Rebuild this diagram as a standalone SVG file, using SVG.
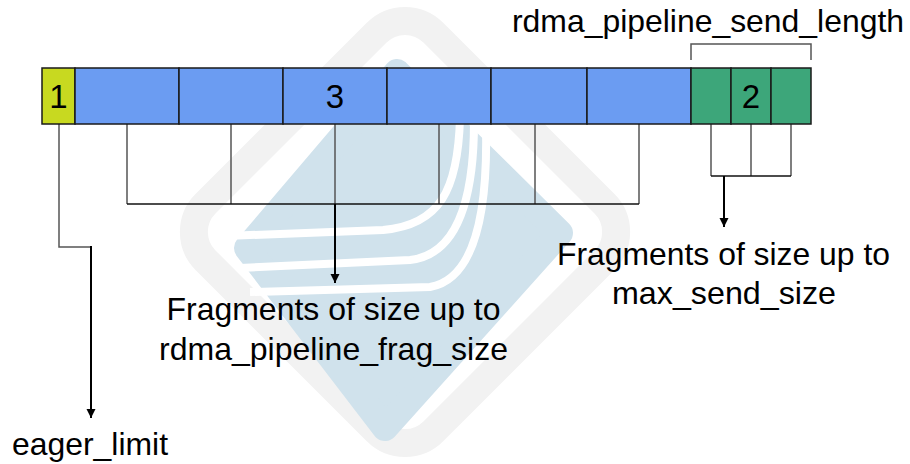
<svg xmlns="http://www.w3.org/2000/svg" width="910" height="464" viewBox="0 0 910 464">
<style>
text{font-family:"Liberation Sans",Arial,sans-serif;fill:#000}
.lbl{font-size:32px;text-anchor:middle}
.num{font-size:33px;text-anchor:middle}
.cell{stroke:#1a1a1a;stroke-width:1.5}
.y{fill:#c8d920}
.b{fill:#6b9cf2}
.g{fill:#3da67a}
.brk{fill:none;stroke:#555;stroke-width:1.5}
.hz{fill:none;stroke:#111;stroke-width:1.5}
.arr{fill:none;stroke:#000;stroke-width:2;marker-end:url(#ah)}
</style>
<defs>
<marker id="ah" markerUnits="userSpaceOnUse" markerWidth="9" markerHeight="10" refX="9" refY="4.5" orient="auto" viewBox="0 0 9 9">
<path d="M0,0 L9,4.5 L0,9 z" fill="#000"/>
</marker>
</defs>
<rect width="910" height="464" fill="#fff"/>
<g id="watermark">
<rect x="244" y="71" width="322" height="322" rx="40" transform="rotate(45 405 232)" fill="none" stroke="#f2f2f2" stroke-width="28"/>
<path d="M397,72 L560,233 L385,428 L247,248 Z" fill="#d0e2ec" stroke="#d0e2ec" stroke-width="26" stroke-linejoin="round"/>
<path d="M460,118 C458,190 440,225 383,230 L225,236" fill="none" stroke="#fff" stroke-width="8"/>
<path d="M474,122 C474,205 455,255 410,260 L240,268" fill="none" stroke="#fff" stroke-width="8"/>
<path d="M486,128 C488,225 470,280 430,287 L250,292" fill="none" stroke="#fff" stroke-width="8"/>
</g>
<g id="connectors">
<path class="brk" d="M691,60 V44 H811 V60"/>
<path class="brk" d="M127,124 V204 M231,124 V204 M335,124 V204 M439,124 V204 M535,124 V204 M639,124 V204"/>
<path class="hz" d="M127,204 H639"/>
<path class="arr" d="M335,204 V283"/>
<path class="brk" d="M711,124 V176 M751,124 V176 M791,124 V176"/>
<path class="hz" d="M711,176 H791"/>
<path class="arr" d="M724,176 V227"/>
<path class="brk" d="M59,124 V247 H91"/>
<path class="arr" d="M91,246 V418"/>
</g>
<g id="bar">
<g id="seg1"><rect class="cell y" x="42" y="68" width="33" height="56"/><text class="num" x="58.5" y="108">1</text></g>
<g id="seg3">
<rect class="cell b" x="75" y="68" width="104" height="56"/>
<rect class="cell b" x="179" y="68" width="104" height="56"/>
<rect class="cell b" x="283" y="68" width="104" height="56"/>
<rect class="cell b" x="387" y="68" width="104" height="56"/>
<rect class="cell b" x="491" y="68" width="96" height="56"/>
<rect class="cell b" x="587" y="68" width="104" height="56"/>
<text class="num" x="335" y="108">3</text>
</g>
<g id="seg2">
<rect class="cell g" x="691" y="68" width="40" height="56"/>
<rect class="cell g" x="731" y="68" width="40" height="56"/>
<rect class="cell g" x="771" y="68" width="40" height="56"/>
<text class="num" x="751" y="108">2</text>
</g>
</g>
<g id="lbl-send-length"><text class="lbl" x="708" y="32" textLength="392" lengthAdjust="spacingAndGlyphs">rdma_pipeline_send_length</text></g>
<g id="lbl-frag"><text class="lbl" x="333.5" y="320" textLength="334" lengthAdjust="spacingAndGlyphs">Fragments of size up to</text>
<text class="lbl" x="333.5" y="360" textLength="349" lengthAdjust="spacingAndGlyphs">rdma_pipeline_frag_size</text></g>
<g id="lbl-send"><text class="lbl" x="723.5" y="265" textLength="333" lengthAdjust="spacingAndGlyphs">Fragments of size up to</text>
<text class="lbl" x="724" y="304" textLength="224" lengthAdjust="spacingAndGlyphs">max_send_size</text></g>
<g id="lbl-eager"><text class="lbl" x="90" y="455" textLength="156" lengthAdjust="spacingAndGlyphs">eager_limit</text></g>
</svg>
